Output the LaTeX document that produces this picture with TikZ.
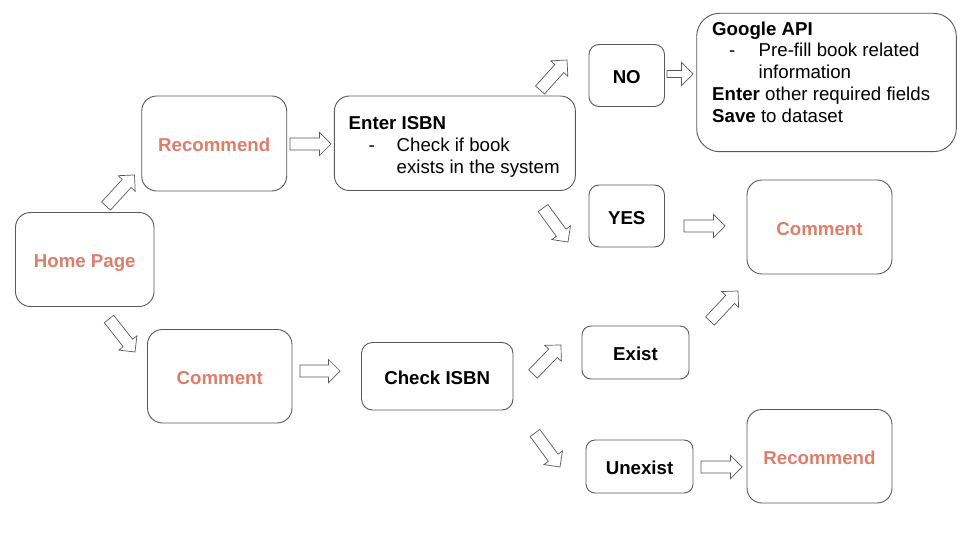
\documentclass[tikz,border=0pt]{standalone}
\usepackage{fontspec}
\setmainfont{Liberation Sans}
\usetikzlibrary{calc}
\definecolor{salmon}{HTML}{DD7E6B}
\definecolor{linegray}{HTML}{595959}
\newcommand\blkarrow[3][6]{%
  \draw[barrow] ($(#2)!#1pt!90:(#3)$)
    -- ($($(#3)!11.5pt!(#2)$)!#1pt!90:(#3)$)
    -- ($($(#3)!11.5pt!(#2)$)!11.5pt!90:(#3)$)
    -- (#3)
    -- ($($(#3)!11.5pt!(#2)$)!11.5pt!-90:(#3)$)
    -- ($($(#3)!11.5pt!(#2)$)!#1pt!-90:(#3)$)
    -- ($(#2)!#1pt!-90:(#3)$) -- cycle;}
\tikzset{
  box/.style={draw=linegray, line width=0.9pt, fill=white, inner sep=0pt, text height=18pt, text depth=2pt, font=\fontsize{18.67}{21.85}\selectfont\bfseries},
  orangebox/.style={box, text=salmon},
  txt/.style={inner sep=0pt, anchor=base west, font=\fontsize{18.67}{21.85}\selectfont},
  barrow/.style={draw=linegray, line width=0.7pt, fill=white, line join=miter},
}
\begin{document}
\begin{tikzpicture}[x=1pt, y=-1pt]
\useasboundingbox[fill=white] (0,0) rectangle (960,540);
% boxes
\node[orangebox, minimum width=138.5pt, minimum height=94pt, rounded corners=15pt] (home) at (84.75,259.5) {Home Page};
\node[orangebox, minimum width=145pt, minimum height=95pt, rounded corners=15pt] (rec1) at (214.2,143.5) {Recommend};
\node[box, minimum width=241pt, minimum height=94.5pt, rounded corners=15pt] (isbn) at (454.9,143.25) {};
\node[box, minimum width=75.5pt, minimum height=62pt, rounded corners=10pt] (no) at (626.75,75.5) {NO};
\node[box, minimum width=259.6pt, minimum height=138.4pt, rounded corners=23pt] (gapi) at (826.5,82.5) {};
\node[box, minimum width=75.5pt, minimum height=62pt, rounded corners=10pt] (yes) at (626.75,216) {YES};
\node[orangebox, minimum width=145pt, minimum height=94pt, rounded corners=15pt] (com1) at (819.5,227) {Comment};
\node[orangebox, minimum width=144.5pt, minimum height=93.5pt, rounded corners=15pt] (com2) at (219.75,376.25) {Comment};
\node[box, minimum width=151.5pt, minimum height=67.5pt, rounded corners=11pt] (chk) at (437.25,376.25) {Check ISBN};
\node[box, minimum width=107pt, minimum height=53pt, rounded corners=9pt] (exist) at (635.5,352.5) {Exist};
\node[box, minimum width=107pt, minimum height=53pt, rounded corners=9pt] (unex) at (639.5,466.5) {Unexist};
\node[orangebox, minimum width=145pt, minimum height=93.5pt, rounded corners=15pt] (rec2) at (819.5,456.25) {Recommend};
% texts in Enter ISBN box
\node[txt, font=\fontsize{18.67}{21.85}\selectfont\bfseries] (isbnA) at (348.5,129.6) {Enter ISBN};
\node[txt] (isbnD) at (368.5,151.5) {-};
\node[txt] (isbnB) at (396.5,151.5) {Check if book};
\node[txt] (isbnC) at (396.5,173.4) {exists in the system};
% texts in Google API box
\node[txt, font=\fontsize{18.67}{21.85}\selectfont\bfseries] (gA) at (712,36) {Google API};
\node[txt] (gD) at (729,57) {-};
\node[txt] (gB) at (758.5,57) {Pre-fill book related};
\node[txt] (gC) at (758.5,78.9) {information};
\node[txt] (gE) at (712,100.7) {\textbf{Enter} other required fields};
\node[txt] (gF) at (712,122.8) {\textbf{Save} to dataset};
% arrow end points
\coordinate (a1s) at (106,206);   \coordinate (a1e) at (134.5,175);
\coordinate (a2s) at (290,144);   \coordinate (a2e) at (331,144);
\coordinate (a3s) at (109,319);   \coordinate (a3e) at (135,352);
\coordinate (a4s) at (300,371);   \coordinate (a4e) at (340,371);
\coordinate (a5s) at (540,90);    \coordinate (a5e) at (567,60);
\coordinate (a6s) at (667,74);    \coordinate (a6e) at (693,74);
\coordinate (a7s) at (543,208);   \coordinate (a7e) at (568,242);
\coordinate (a8s) at (684,226);   \coordinate (a8e) at (725,226);
\coordinate (a9s) at (710,321);   \coordinate (a9e) at (738,291);
\coordinate (a10s) at (533,374);  \coordinate (a10e) at (561,345);
\coordinate (a11s) at (535,433);  \coordinate (a11e) at (560,467);
\coordinate (a12s) at (701,467);  \coordinate (a12e) at (742,467);
\blkarrow{a1s}{a1e}
\blkarrow{a2s}{a2e}
\blkarrow{a3s}{a3e}
\blkarrow{a4s}{a4e}
\blkarrow{a5s}{a5e}
\blkarrow[3.5]{a6s}{a6e}
\blkarrow{a7s}{a7e}
\blkarrow{a8s}{a8e}
\blkarrow{a9s}{a9e}
\blkarrow{a10s}{a10e}
\blkarrow{a11s}{a11e}
\blkarrow{a12s}{a12e}
\end{tikzpicture}
\end{document}
